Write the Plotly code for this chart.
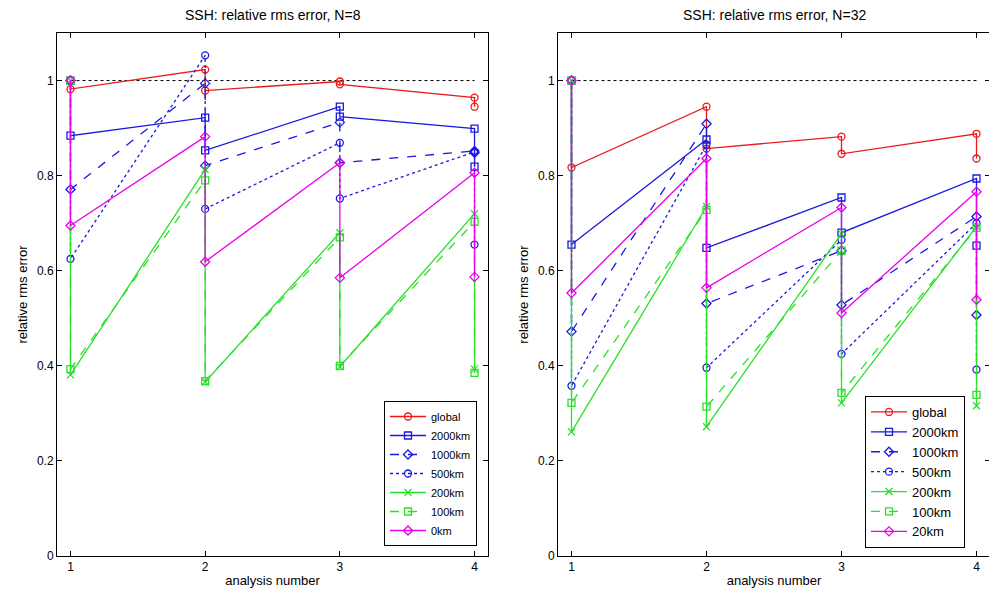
import plotly.graph_objects as go

analysis = [1, 2, 3, 4]
names_left = ["global", "2000km", "1000km", "500km", "200km", "100km", "0km"]
names_right = ["global", "2000km", "1000km", "500km", "200km", "100km", "20km"]

# N=8: forecast (before analysis) and analysis (after) values
fc_left = {
    "global": [1.0, 1.023, 0.998, 0.964],
    "2000km": [1.0, 0.922, 0.945, 0.899],
    "1000km": [1.0, 0.994, 0.912, 0.852],
    "500km":  [1.0, 1.053, 0.869, 0.850],
    "200km":  [1.0, 0.813, 0.680, 0.720],
    "100km":  [1.0, 0.790, 0.670, 0.703],
    "0km":    [1.0, 0.882, 0.827, 0.806],
}
an_left = {
    "global": [0.982, 0.979, 0.992, 0.945],
    "2000km": [0.884, 0.853, 0.924, 0.819],
    "1000km": [0.771, 0.821, 0.827, 0.848],
    "500km":  [0.625, 0.730, 0.752, 0.655],
    "200km":  [0.381, 0.366, 0.398, 0.393],
    "100km":  [0.393, 0.368, 0.400, 0.385],
    "0km":    [0.695, 0.619, 0.585, 0.587],
}
# N=32
fc_right = {
    "global": [1.0, 0.945, 0.882, 0.888],
    "2000km": [1.0, 0.876, 0.754, 0.794],
    "1000km": [1.0, 0.909, 0.642, 0.714],
    "500km":  [1.0, 0.865, 0.665, 0.700],
    "200km":  [1.0, 0.735, 0.678, 0.693],
    "100km":  [1.0, 0.728, 0.642, 0.690],
    "20km":   [1.0, 0.836, 0.733, 0.766],
}
an_right = {
    "global": [0.817, 0.857, 0.846, 0.836],
    "2000km": [0.655, 0.648, 0.680, 0.653],
    "1000km": [0.472, 0.531, 0.528, 0.507],
    "500km":  [0.358, 0.396, 0.425, 0.392],
    "200km":  [0.261, 0.272, 0.322, 0.316],
    "100km":  [0.322, 0.314, 0.343, 0.339],
    "20km":   [0.553, 0.564, 0.511, 0.539],
}

RED = "rgb(235,25,25)"
BLUE = "rgb(25,25,225)"
GREEN = "rgb(40,225,40)"
MAG = "rgb(235,0,235)"
styles = [
    (RED, "solid", "circle-open"),
    (BLUE, "solid", "square-open"),
    (BLUE, "dash", "diamond-open"),
    (BLUE, "dot", "circle-open"),
    (GREEN, "solid", "x-thin-open"),
    (GREEN, "dash", "square-open"),
    (MAG, "solid", "diamond-open"),
]

FONT = "Liberation Sans, Arial, sans-serif"
fig = go.Figure()


def add_panel(names, fc, an, xa, ya, legend):
    # reference line at 1
    fig.add_trace(go.Scatter(x=[analysis[0], analysis[-1]], y=[1, 1], mode="lines",
                             line=dict(color="black", width=1, dash="dot"),
                             showlegend=False, xaxis=xa, yaxis=ya, hoverinfo="skip"))
    for name, (col, dash, sym) in zip(names, styles):
        xs, ys = [], []
        for i, a in enumerate(analysis):
            xs += [a, a]
            ys += [fc[name][i], an[name][i]]
        fig.add_trace(go.Scatter(
            x=xs, y=ys, mode="lines+markers", name=name,
            line=dict(color=col, width=1.3, dash=dash),
            marker=dict(symbol=sym, size=7, color=col, line=dict(width=1.3, color=col)),
            xaxis=xa, yaxis=ya, legend=legend))


add_panel(names_left, fc_left, an_left, "x", "y", "legend")
add_panel(names_right, fc_right, an_right, "x2", "y2", "legend2")

W, H = 997, 600
OFF = 8  # page body margin


def px(x):
    return (x - OFF) / W


def py(y):
    return 1 - (y - OFF) / H


axis_common = dict(showline=True, linecolor="black", linewidth=1, mirror="ticks",
                   ticks="inside", ticklen=5, tickcolor="black", showgrid=False,
                   zeroline=False, automargin=False,
                   tickfont=dict(family=FONT, size=12, color="black"))
xdom1 = [px(57), px(488)]
xdom2 = [px(558), px(990)]
ydom = [py(556), py(33)]

fig.update_layout(
    width=W, height=H,
    margin=dict(l=0, r=0, t=0, b=0, autoexpand=False),
    plot_bgcolor="white", paper_bgcolor="white",
    font=dict(family=FONT, size=12, color="black"),
    xaxis=dict(domain=xdom1, range=[0.9, 4.1], tickvals=analysis, anchor="y",
               title=dict(text="analysis number", standoff=2, font=dict(size=13)), **axis_common),
    yaxis=dict(domain=ydom, range=[0, 1.1], tickvals=[0, 0.2, 0.4, 0.6, 0.8, 1], anchor="x",
               title=dict(text="relative rms error", standoff=6, font=dict(size=13)), **axis_common),
    xaxis2=dict(domain=xdom2, range=[0.9, 4.1], tickvals=analysis, anchor="y2",
                title=dict(text="analysis number", standoff=2, font=dict(size=13)), **axis_common),
    yaxis2=dict(domain=ydom, range=[0, 1.1], tickvals=[0, 0.2, 0.4, 0.6, 0.8, 1], anchor="x2",
                title=dict(text="relative rms error", standoff=6, font=dict(size=13)), **axis_common),
    legend=dict(x=px(477), y=py(546), xanchor="right", yanchor="bottom",
                bordercolor="black", borderwidth=1, bgcolor="white",
                font=dict(family=FONT, size=11), itemwidth=36, tracegroupgap=0),
    legend2=dict(x=px(965), y=py(548), xanchor="right", yanchor="bottom",
                 bordercolor="black", borderwidth=1, bgcolor="white",
                 font=dict(family=FONT, size=13), itemwidth=36, tracegroupgap=0),
    annotations=[
        dict(text="SSH: relative rms error, N=8", x=(xdom1[0] + xdom1[1]) / 2, y=py(15),
             xref="paper", yref="paper", showarrow=False, font=dict(family=FONT, size=14),
             xanchor="center", yanchor="middle"),
        dict(text="SSH: relative rms error, N=32", x=(xdom2[0] + xdom2[1]) / 2, y=py(15),
             xref="paper", yref="paper", showarrow=False, font=dict(family=FONT, size=14),
             xanchor="center", yanchor="middle"),
    ],
)

fig.write_html("out.html")
